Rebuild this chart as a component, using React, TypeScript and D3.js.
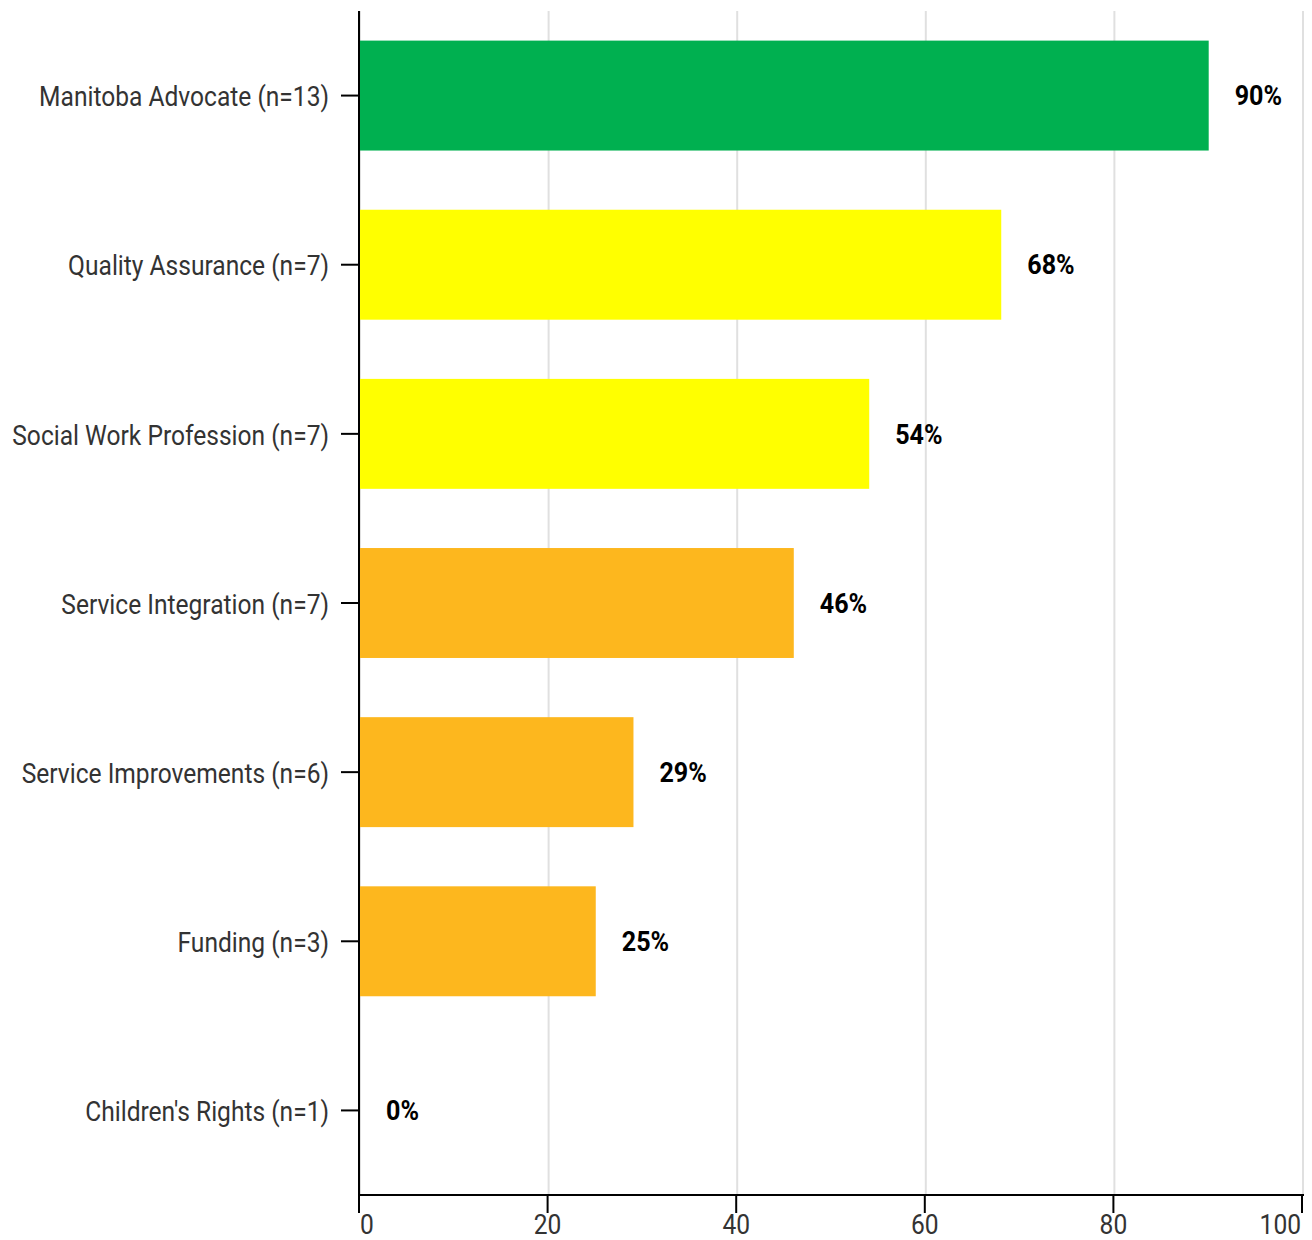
import React, { useEffect } from "react";
import * as d3 from "d3";

const categories = [
  "Manitoba Advocate (n=13)",
  "Quality Assurance (n=7)",
  "Social Work Profession (n=7)",
  "Service Integration (n=7)",
  "Service Improvements (n=6)",
  "Funding (n=3)",
  "Children's Rights (n=1)",
];
const values = [90, 68, 54, 46, 29, 25, 0];
const barColors = ["#00B050", "#FFFF00", "#FFFF00", "#FDB71E", "#FDB71E", "#FDB71E", "#FDB71E"];
const xTicks = [0, 20, 40, 60, 80, 100];

const W = 1312;
const H = 1240;
const FONT = "Roboto, 'Noto Sans', sans-serif";
const SX = 0.91; // condensed look
const FS = 27;

export default function App() {
  useEffect(() => {
    document.body.style.margin = "0";
  }, []);

  const x = d3.scaleLinear().domain([0, 100]).range([360, 1303]);
  const y = d3.scaleBand<string>().domain(categories).range([11, 1195]).paddingInner(0.35).paddingOuter(0.175);
  const x0 = x(0);
  const yBottom = 1195;
  const yTop = 11;

  return (
    <svg width={W} height={H} style={{ display: "block", background: "#fff" }}>
      {xTicks.map((t) => (
        <line key={"g" + t} x1={x(t)} x2={x(t)} y1={yTop} y2={yBottom} stroke="#e0e0e0" strokeWidth={2} />
      ))}
      {categories.map((c, i) => (
        <rect key={"b" + c} x={x0} y={y(c)} width={x(values[i]) - x0} height={y.bandwidth()} fill={barColors[i]} />
      ))}
      {categories.map((c, i) => (
        <text
          key={"v" + c}
          transform={`translate(${x(values[i]) + 26},${(y(c) ?? 0) + y.bandwidth() / 2}) scale(0.93,1)`}
          dy="0.36em"
          fontFamily={FONT}
          fontWeight={700}
          fontSize={FS}
          fill="#000"
        >
          {values[i] + "%"}
        </text>
      ))}
      {/* y axis */}
      <line x1={x0 - 1} x2={x0 - 1} y1={yTop} y2={yBottom + 1} stroke="#000" strokeWidth={2} />
      {categories.map((c) => {
        const cy = (y(c) ?? 0) + y.bandwidth() / 2;
        return (
          <g key={"yl" + c}>
            <line x1={x0 - 19} x2={x0 - 1} y1={cy} y2={cy} stroke="#000" strokeWidth={2} />
            <text
              transform={`translate(329,${cy + 1}) scale(${SX},1)`}
              dy="0.36em"
              textAnchor="end"
              fontFamily={FONT}
              fontSize={FS}
              fill="#333"
            >
              {c}
            </text>
          </g>
        );
      })}
      {/* x axis */}
      <line x1={x0 - 2} x2={x(100) + 1} y1={yBottom} y2={yBottom} stroke="#000" strokeWidth={2} />
      {xTicks.map((t, i) => {
        const anchor = i === 0 ? "start" : i === xTicks.length - 1 ? "end" : "middle";
        const tx = i === 0 ? x(t) : i === xTicks.length - 1 ? x(t) - 2 : x(t) - 1;
        return (
          <g key={"xt" + t}>
            <line x1={x(t) - 1} x2={x(t) - 1} y1={yBottom} y2={yBottom + 18} stroke="#000" strokeWidth={2} />
            <text
              transform={`translate(${tx},1234) scale(${SX},1)`}
              textAnchor={anchor}
              fontFamily={FONT}
              fontSize={FS}
              fill="#333"
            >
              {t}
            </text>
          </g>
        );
      })}
    </svg>
  );
}
